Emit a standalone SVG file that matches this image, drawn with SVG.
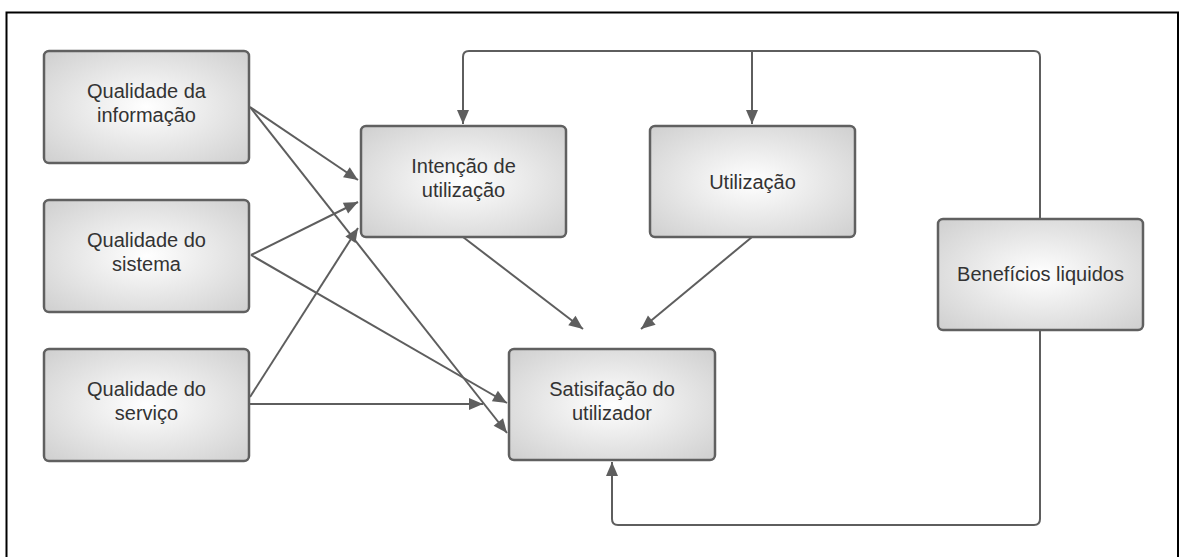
<svg xmlns="http://www.w3.org/2000/svg" width="1184" height="557" viewBox="0 0 1184 557">
<style>
.box{fill:url(#g);stroke:#606060;stroke-width:2.5}
.lbl{font-family:"Liberation Sans",Arial,sans-serif;font-size:20px;fill:#333;text-anchor:middle}
.ln{fill:none;stroke:#5e5e5e;stroke-width:2}
.ar{marker-end:url(#ah)}
</style>
<defs>
<radialGradient id="g" cx="50%" cy="50%" r="70%">
<stop offset="0" stop-color="#ffffff"/>
<stop offset="1" stop-color="#cfcfcf"/>
</radialGradient>
<marker id="ah" markerUnits="userSpaceOnUse" markerWidth="16" markerHeight="14" viewBox="0 0 16 14" refX="15" refY="7" orient="auto">
<path d="M1,1 L15,7 L1,13 Z" fill="#5e5e5e"/>
</marker>
</defs>
<rect x="6.5" y="12.5" width="1171.5" height="570" fill="#fff" stroke="#000" stroke-width="2"/>
<g id="connectors">
<line class="ln ar" x1="250" y1="107" x2="358" y2="180"/>
<line class="ln ar" x1="250" y1="107" x2="507" y2="433"/>
<line class="ln ar" x1="251" y1="255" x2="358" y2="202"/>
<line class="ln ar" x1="251" y1="255" x2="507" y2="403"/>
<line class="ln ar" x1="250" y1="397" x2="358" y2="228"/>
<line class="ln ar" x1="250" y1="404" x2="483" y2="404"/>
<line class="ln ar" x1="463" y1="237" x2="583" y2="329"/>
<line class="ln ar" x1="752" y1="237" x2="641" y2="329"/>
<path class="ln ar" d="M1040,219 V57 Q1040,51 1034,51 H469 Q463,51 463,57 V124"/>
<line class="ln ar" x1="752" y1="51" x2="752" y2="124"/>
<path class="ln ar" d="M1040,330 V519 Q1040,525 1034,525 H618 Q612,525 612,519 V462"/>
</g>
<g id="n-info"><rect class="box" x="44" y="51" width="205" height="112" rx="5"/><text class="lbl" x="146.5" y="98">Qualidade da</text><text class="lbl" x="146.5" y="122">informação</text></g>
<g id="n-sistema"><rect class="box" x="44" y="200" width="205" height="112" rx="5"/><text class="lbl" x="146.5" y="247">Qualidade do</text><text class="lbl" x="146.5" y="271">sistema</text></g>
<g id="n-servico"><rect class="box" x="44" y="349" width="205" height="112" rx="5"/><text class="lbl" x="146.5" y="396">Qualidade do</text><text class="lbl" x="146.5" y="420">serviço</text></g>
<g id="n-intencao"><rect class="box" x="361" y="126" width="205" height="111" rx="5"/><text class="lbl" x="463.5" y="173">Intenção de</text><text class="lbl" x="463.5" y="197">utilização</text></g>
<g id="n-utilizacao"><rect class="box" x="650" y="126" width="205" height="111" rx="5"/><text class="lbl" x="752.5" y="189">Utilização</text></g>
<g id="n-satisfacao"><rect class="box" x="509" y="349" width="206" height="111" rx="5"/><text class="lbl" x="612" y="396">Satisifação do</text><text class="lbl" x="612" y="420">utilizador</text></g>
<g id="n-beneficios"><rect class="box" x="938" y="219" width="205" height="111" rx="5"/><text class="lbl" x="1040.5" y="281">Benefícios liquidos</text></g>
</svg>
